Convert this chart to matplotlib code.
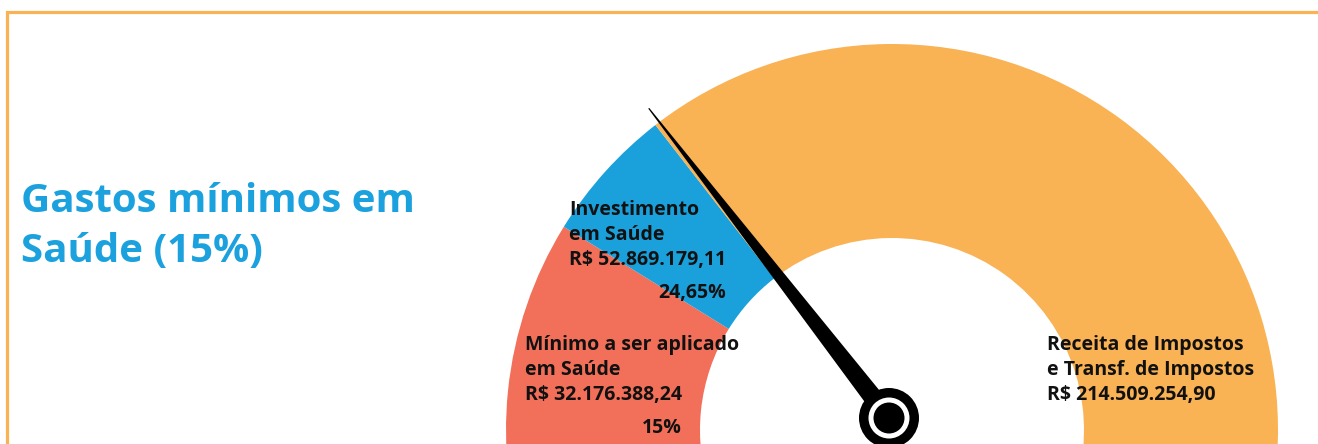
import matplotlib
matplotlib.use("Agg")
import matplotlib.pyplot as plt
from matplotlib.patches import Wedge, Circle, Polygon
import numpy as np

# ---------------- data ----------------
title_lines = ["Gastos mínimos em", "Saúde (15%)"]
segment_names = [["Mínimo a ser aplicado", "em Saúde"],
                 ["Investimento", "em Saúde"],
                 ["Receita de Impostos", "e Transf. de Impostos"]]
segment_values = ["R$ 32.176.388,24", "R$ 52.869.179,11", "R$ 214.509.254,90"]
segment_pcts = [15.0, 24.65]          # cumulative share of revenue (%)
segment_pct_labels = ["15%", "24,65%"]
needle_pct = 24.65
gauge_max_pct = 85.0                  # percentage represented by the full half-circle

# ---------------- style ----------------
W, H = 1318, 444
RED = "#F2705A"
BLUE = "#1AA0DB"
ORANGE = "#F9B254"
TITLE_BLUE = "#1BA1DD"

plt.rcParams['font.family'] = ['Open Sans', 'DejaVu Sans']

fig = plt.figure(figsize=(W / 100, H / 100), dpi=100)
ax = fig.add_axes([0, 0, 1, 1])
ax.set_xlim(0, W)
ax.set_ylim(0, H)
ax.set_aspect('equal')
ax.axis('off')


def Y(y_px):
    return H - y_px


def ang(p):
    return 180.0 - p / gauge_max_pct * 180.0


# border
ax.plot([7, 7, W + 5], [Y(H + 5), Y(12.5), Y(12.5)], color=ORANGE, lw=2.3,
        solid_capstyle='butt', solid_joinstyle='miter')

# gauge
cx, cy = 892, Y(430)
r_out, r_in = 386, 192
a_min = ang(segment_pcts[0])
a_inv = ang(segment_pcts[1])
ax.add_patch(Wedge((cx, cy), r_out, a_min, 200, width=r_out - r_in,
                   facecolor=RED, edgecolor='none'))
ax.add_patch(Wedge((cx, cy), r_out, a_inv, a_min, width=r_out - r_in,
                   facecolor=BLUE, edgecolor='none'))
ax.add_patch(Wedge((cx, cy), r_out, -20, a_inv, width=r_out - r_in,
                   facecolor=ORANGE, edgecolor='none'))

# needle
px, py = 889, Y(418)
na = np.deg2rad(ang(needle_pct))
L = 392
d = np.array([np.cos(na), np.sin(na)])
n = np.array([-d[1], d[0]])
base = np.array([px, py])
tip = base + d * L
hw_base, hw_tip = 10, 0.6
poly = [base + n * hw_base, tip + n * hw_tip, tip - n * hw_tip, base - n * hw_base]
ax.add_patch(Polygon(poly, closed=True, facecolor='black', edgecolor='none', zorder=5))
ax.add_patch(Circle((px, py), 30, facecolor='black', edgecolor='none', zorder=6))
ax.add_patch(Circle((px, py), 20.5, facecolor='white', edgecolor='none', zorder=7))
ax.add_patch(Circle((px, py), 15.5, facecolor='black', edgecolor='none', zorder=8))

# title
for i, t in enumerate(title_lines):
    ax.text(21, Y(212 + i * 50), t, fontsize=29, fontweight='bold', color=TITLE_BLUE,
            ha='left', va='baseline')

# labels
label_pos = [(525, 350), (569, 215), (1047, 350)]
fs = 14
for k in range(3):
    x0, y0 = label_pos[k]
    for j, line in enumerate(segment_names[k]):
        ax.text(x0, Y(y0 + 25 * j), line, fontsize=fs, fontweight='bold',
                color='#111111', ha='left', va='baseline', zorder=10)
    vt = ax.text(x0, Y(y0 + 50), segment_values[k], fontsize=fs, fontweight='bold',
                 color='#111111', ha='left', va='baseline', zorder=10)
    if k < 2:
        ax.annotate(segment_pct_labels[k], xy=(1, 0), xycoords=vt,
                    xytext=(0, -28 * 0.72), textcoords='offset points',
                    fontsize=fs, fontweight='bold', color='#111111',
                    ha='right', va='baseline', zorder=10)

fig.savefig("out.png", dpi=100)
